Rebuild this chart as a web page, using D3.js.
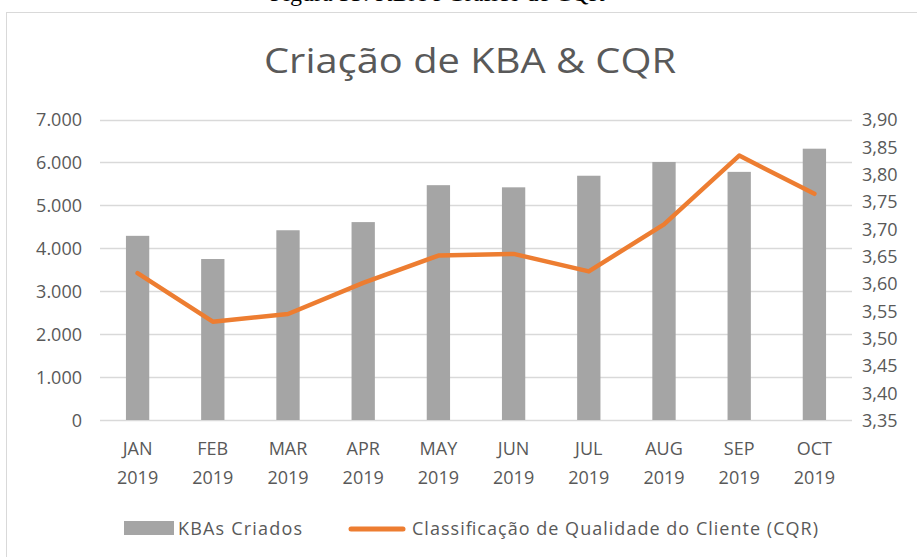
<!DOCTYPE html>
<html>
<head>
<meta charset="utf-8">
<script src="https://cdn.jsdelivr.net/npm/d3@7"></script>
<style>
  html, body { margin: 0; padding: 0; background: #fff; }
  svg { display: block; }
</style>
</head>
<body>
<div id="chart"></div>
<script>
const months = ["JAN", "FEB", "MAR", "APR", "MAY", "JUN", "JUL", "AUG", "SEP", "OCT"];
const year = "2019";
const kbaCriados = [4290, 3750, 4420, 4610, 5470, 5420, 5690, 6010, 5780, 6320];
const cqr = [3.619, 3.530, 3.544, 3.601, 3.651, 3.654, 3.622, 3.708, 3.834, 3.764];
const leftTicks = [0, 1000, 2000, 3000, 4000, 5000, 6000, 7000];
const rightTicks = [3.35, 3.40, 3.45, 3.50, 3.55, 3.60, 3.65, 3.70, 3.75, 3.80, 3.85, 3.90];

const width = 917, height = 557;
const plot = { left: 100, right: 852, top: 119.5, bottom: 420 };
const txt = "#595959";
const font = "'Open Sans', 'Noto Sans', sans-serif";

const svg = d3.select("#chart").append("svg")
  .attr("width", width)
  .attr("height", height);

// caption of the page, cut by the crop
svg.append("text")
  .attr("x", 270)
  .attr("y", 1)
  .attr("font-family", "'Liberation Serif', serif")
  .attr("font-size", 24)
  .attr("fill", "#000")
  .text("Figura 33: KBA e Gráfico de CQR");

// chart area border
svg.append("rect")
  .attr("x", 6.5).attr("y", 12.5)
  .attr("width", width).attr("height", height)
  .attr("fill", "#fff")
  .attr("stroke", "#d9d9d9");

svg.append("text")
  .attr("x", 470)
  .attr("y", 73)
  .attr("text-anchor", "middle")
  .attr("font-family", font)
  .attr("font-size", 34)
  .attr("textLength", 412)
  .attr("lengthAdjust", "spacingAndGlyphs")
  .attr("fill", txt)
  .text("Criação de KBA & CQR");

const x = d3.scaleBand()
  .domain(months)
  .range([plot.left, plot.right])
  .paddingInner(0.69)
  .paddingOuter(0.345);

const yL = d3.scaleLinear().domain([0, 7000]).range([plot.bottom, plot.top]);
const yR = d3.scaleLinear().domain([3.35, 3.90]).range([plot.bottom, plot.top]);

const fmtL = v => d3.format(",")(v).replace(/,/g, ".");
const fmtR = v => d3.format(".2f")(v).replace(".", ",");

// gridlines
svg.append("g")
  .selectAll("line")
  .data(leftTicks)
  .join("line")
  .attr("x1", plot.left).attr("x2", plot.right)
  .attr("y1", d => Math.round(yL(d)) + 0.5)
  .attr("y2", d => Math.round(yL(d)) + 0.5)
  .attr("stroke", "#d9d9d9")
  .attr("stroke-width", 1.3);

// left axis
const axL = svg.append("g")
  .attr("transform", `translate(${plot.left - 18},0)`)
  .call(d3.axisLeft(yL).tickValues(leftTicks).tickFormat(fmtL).tickSize(0).tickPadding(0));
axL.select(".domain").remove();
axL.selectAll("text")
  .attr("font-family", font).attr("font-size", 18).attr("fill", txt)
  .attr("dy", "0.36em");

// right axis
const axR = svg.append("g")
  .attr("transform", `translate(${plot.right + 10},0)`)
  .call(d3.axisRight(yR).tickValues(rightTicks).tickFormat(fmtR).tickSize(0).tickPadding(0));
axR.select(".domain").remove();
axR.selectAll("text")
  .attr("font-family", font).attr("font-size", 18).attr("fill", txt)
  .attr("dy", "0.36em");

// bars
svg.append("g")
  .selectAll("rect")
  .data(kbaCriados)
  .join("rect")
  .attr("x", (d, i) => x(months[i]))
  .attr("width", x.bandwidth())
  .attr("y", d => yL(d))
  .attr("height", d => yL(0) - yL(d))
  .attr("fill", "#a5a5a5");

// line
const line = d3.line()
  .x((d, i) => x(months[i]) + x.bandwidth() / 2)
  .y(d => yR(d));

svg.append("path")
  .datum(cqr)
  .attr("d", line)
  .attr("fill", "none")
  .attr("stroke", "#ed7d31")
  .attr("stroke-width", 4.5)
  .attr("stroke-linejoin", "round")
  .attr("stroke-linecap", "round");

// x labels
const xl = svg.append("g")
  .selectAll("text")
  .data(months)
  .join("text")
  .attr("x", d => x(d) + x.bandwidth() / 2)
  .attr("y", 455)
  .attr("text-anchor", "middle")
  .attr("font-family", font)
  .attr("font-size", 18)
  .attr("fill", txt);
xl.append("tspan").attr("x", d => x(d) + x.bandwidth() / 2).text(d => d);
xl.append("tspan").attr("x", d => x(d) + x.bandwidth() / 2).attr("dy", 29).text(year);

// legend
const lg = svg.append("g").attr("font-family", font).attr("font-size", 18).attr("fill", txt);
lg.append("rect")
  .attr("x", 124).attr("y", 521)
  .attr("width", 50).attr("height", 14)
  .attr("fill", "#a5a5a5");
lg.append("text").attr("x", 178).attr("y", 535)
  .attr("textLength", 124).attr("lengthAdjust", "spacing")
  .text("KBAs Criados");
lg.append("line")
  .attr("x1", 351).attr("x2", 403)
  .attr("y1", 529).attr("y2", 529)
  .attr("stroke", "#ed7d31")
  .attr("stroke-width", 5)
  .attr("stroke-linecap", "round");
lg.append("text").attr("x", 412).attr("y", 535)
  .attr("textLength", 406).attr("lengthAdjust", "spacing")
  .text("Classificação de Qualidade do Cliente (CQR)");
</script>
</body>
</html>
